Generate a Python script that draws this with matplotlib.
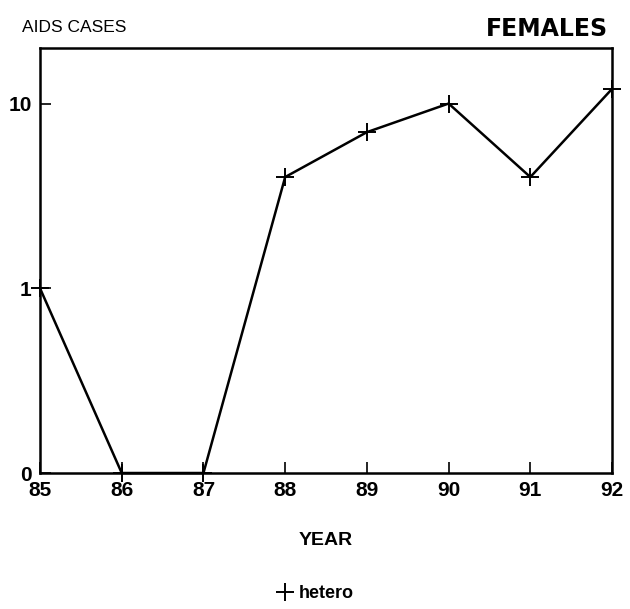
import matplotlib
matplotlib.use('Agg')
import matplotlib.pyplot as plt

years = [85, 86, 87, 88, 89, 90, 91, 92]
hetero = [1, 0, 0, 4, 7, 10, 4, 12]
ytick_vals = [0, 1, 10]
ytick_labels = ['0', '1', '10']

plt.rcParams['font.family'] = ['Liberation Sans Narrow', 'Liberation Sans', 'DejaVu Sans']

def main():
    fig = plt.figure(figsize=(6.3, 6.09), dpi=100)
    ax = fig.add_axes([0.0635, 0.2233, 0.908, 0.698])
    ax.plot(years, hetero, color='black', lw=1.8, marker='+', ms=13, mew=1.4,
            label='hetero', clip_on=False, zorder=3)
    # 0, 1 and 10 sit at equal steps
    ax.set_yscale('symlog', linthresh=1, linscale=0.9)
    ax.set_ylim(0, 20)
    ax.set_xlim(85, 92)
    ax.set_yticks(ytick_vals)
    ax.set_yticklabels(ytick_labels)
    ax.yaxis.set_minor_locator(matplotlib.ticker.NullLocator())
    ax.set_xticks(years)
    ax.set_xticklabels([str(y) for y in years])
    ax.tick_params(direction='in', length=8, width=1.2, labelsize=15, pad=6)
    for lab in ax.get_xticklabels() + ax.get_yticklabels():
        lab.set_fontweight('bold')
    for sp in ax.spines.values():
        sp.set_linewidth(1.8)
    ax.set_xlabel('YEAR', fontsize=14, fontweight='bold', labelpad=23)

    fig.text(0.035, 0.955, 'AIDS CASES', fontsize=12.5, ha='left', va='center')
    fig.text(0.965, 0.952, 'FEMALES', fontsize=17, fontweight='bold',
             family=['DejaVu Sans'], ha='right', va='center')
    fig.legend(loc='center', bbox_to_anchor=(0.5, 0.025), frameon=False,
               prop={'size': 13, 'weight': 'bold'}, handlelength=1.0,
               handletextpad=0.3)
    leg = fig.legends[0]
    for h in leg.legend_handles:
        h.set_linestyle('none')
    fig.savefig('out.png', dpi=100)

if __name__ == "__main__":
    main()
